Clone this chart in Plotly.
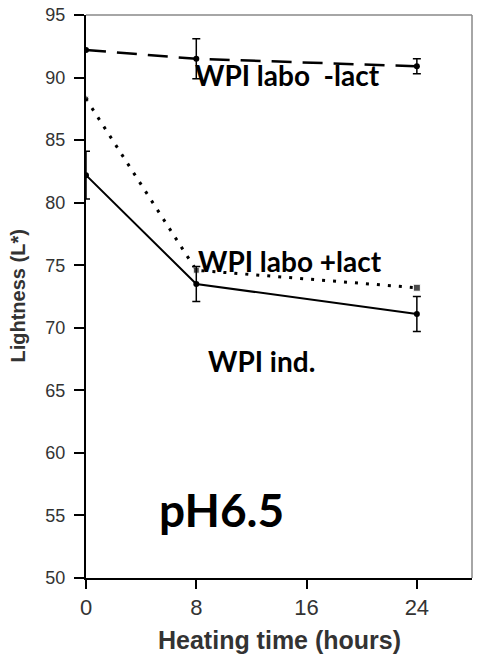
import plotly.graph_objects as go

hours = [0, 8, 24]
labo_minus_lact = [92.2, 91.5, 90.9]
labo_minus_err = [0.0, 1.6, 0.6]
labo_plus_lact = [88.3, 74.6, 73.2]
wpi_ind = [82.2, 73.5, 71.1]
wpi_ind_err = [1.9, 1.4, 1.4]

x_ticks = [0, 8, 16, 24]
y_ticks = [50, 55, 60, 65, 70, 75, 80, 85, 90, 95]

labels = ["WPI labo&nbsp;&nbsp;-lact", "WPI labo +lact", "WPI ind.", "pH6.5"]

fig = go.Figure()

fig.add_trace(go.Scatter(
    x=hours, y=labo_minus_lact, mode="lines+markers",
    line=dict(color="black", width=2.5, dash="20px,11px"),
    marker=dict(symbol="circle", size=6, color="black"),
    error_y=dict(type="data", array=labo_minus_err, color="black", thickness=1.5, width=4),
    showlegend=False))

fig.add_trace(go.Scatter(
    x=hours, y=labo_plus_lact, mode="lines+markers",
    line=dict(color="black", width=3, dash="3px,8px"),
    marker=dict(symbol=["circle", "square", "square"], size=[6, 6, 7], color="black"),
    showlegend=False))

fig.add_trace(go.Scatter(
    x=hours, y=wpi_ind, mode="lines+markers",
    line=dict(color="black", width=2),
    marker=dict(symbol="circle", size=6, color="black"),
    error_y=dict(type="data", array=wpi_ind_err, color="black", thickness=1.5, width=4),
    showlegend=False))

ann_font = dict(family="Lato, Open Sans, sans-serif", size=28, color="black")
fig.add_annotation(x=14.65, y=90.2, text="<b>" + labels[0] + "</b>", showarrow=False, font=ann_font)
fig.add_annotation(x=14.8, y=75.3, text="<b>" + labels[1] + "</b>", showarrow=False, font=ann_font)
fig.add_annotation(x=12.76, y=67.35, text="<b>" + labels[2] + "</b>", showarrow=False, font=ann_font)
fig.add_annotation(x=9.86, y=55.5, text="<b>" + labels[3] + "</b>", showarrow=False,
                   font=dict(family="Lato, Open Sans, sans-serif", size=46, color="black"))

# axis titles
fig.add_annotation(xref="paper", yref="paper", x=0, y=0.5, xshift=-69, textangle=-90,
                   xanchor="center", yanchor="middle",
                   text="<b>Lightness (L*)</b>", showarrow=False,
                   font=dict(family="Liberation Sans, Arial, sans-serif", size=20, color="#333333"))
fig.add_annotation(xref="paper", yref="paper", x=0.5, y=0, yshift=-62,
                   xanchor="center", yanchor="middle",
                   text="<b>Heating time (hours)</b>", showarrow=False,
                   font=dict(family="Liberation Sans, Arial, sans-serif", size=25, color="#333333"))

fig.update_xaxes(range=[0, 28], tickvals=x_ticks, ticks="outside", ticklen=9, tickwidth=1.5,
                 tickcolor="black", showline=True, linecolor="black", linewidth=2,
                 showgrid=False, zeroline=False, automargin=False,
                 tickfont=dict(family="Liberation Sans, Arial, sans-serif", size=22, color="#333333"))
fig.update_yaxes(range=[50, 95], tickvals=y_ticks, ticks="outside", ticklen=10, tickwidth=1.5,
                 tickcolor="black", showline=True, linecolor="black", linewidth=2,
                 showgrid=False, zeroline=False, automargin=False, ticklabelstandoff=5,
                 ticklabeloverflow="allow",
                 tickfont=dict(family="Liberation Sans, Arial, sans-serif", size=18, color="#333333"))

# top and right border in grey
fig.add_shape(type="line", xref="paper", yref="paper", x0=0, x1=1, y0=1, y1=1,
              line=dict(color="#888888", width=1.5))
fig.add_shape(type="line", xref="paper", yref="paper", x0=1, x1=1, y0=0, y1=1,
              line=dict(color="#888888", width=1.5))

fig.update_layout(width=481, height=664, margin=dict(l=86, r=9, t=15, b=86),
                  plot_bgcolor="white", paper_bgcolor="white")

fig.write_html("out.html", config={"displayModeBar": False},
               post_script="document.body.style.margin='0px';document.body.style.overflow='hidden';")
